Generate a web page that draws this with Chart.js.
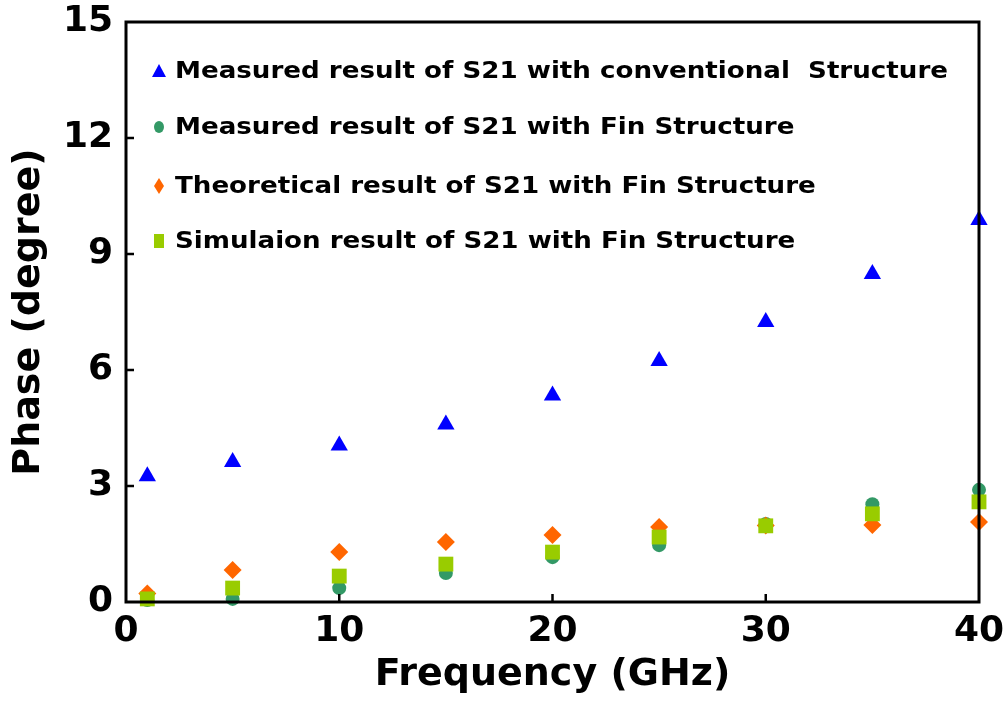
<!DOCTYPE html>
<html>
<head>
<meta charset="utf-8">
<script src="https://cdn.jsdelivr.net/npm/chart.js@4/dist/chart.umd.min.js"></script>
<style>
  html, body { margin: 0; padding: 0; background: #fff; }
  #wrap { width: 1006px; height: 702px; }
</style>
</head>
<body>
<div id="wrap"><canvas id="phaseChart" width="1006" height="702"></canvas></div>
<script>
const freqGHz = [1, 5, 10, 15, 20, 25, 30, 35, 40];
const measConventional = [3.25, 3.62, 4.05, 4.59, 5.34, 6.23, 7.24, 8.48, 9.88];
const measFin = [0.05, 0.08, 0.36, 0.75, 1.16, 1.47, 2.02, 2.53, 2.9];
const theoryFin = [0.22, 0.83, 1.29, 1.55, 1.73, 1.94, 1.98, 1.99, 2.07];
const simFin = [0.08, 0.36, 0.67, 0.98, 1.29, 1.68, 1.97, 2.28, 2.59];

const xTicks = [0, 10, 20, 30, 40];
const yTicks = [0, 3, 6, 9, 12, 15];

const seriesNames = [
  'Measured result of S21 with conventional  Structure',
  'Measured result of S21 with Fin Structure',
  'Theoretical result of S21 with Fin Structure',
  'Simulaion result of S21 with Fin Structure'
];
const seriesColors = ['#0000ff', '#339966', '#ff6600', '#99cc00'];

const toPoints = ys => freqGHz.map((x, i) => ({ x: x, y: ys[i] }));

// frame around the plot plus short inward tick marks
const frameBox = {
  id: 'frameBox',
  afterDatasetsDraw(chart) {
    const { ctx, chartArea: a, scales } = chart;
    ctx.save();
    ctx.strokeStyle = '#000';
    ctx.lineWidth = 3;
    ctx.strokeRect(a.left, a.top, a.right - a.left, a.bottom - a.top);
    ctx.lineWidth = 2.5;
    ctx.beginPath();
    xTicks.slice(1, -1).forEach(v => {
      const px = scales.x.getPixelForValue(v);
      ctx.moveTo(px, a.bottom);
      ctx.lineTo(px, a.bottom - 8);
    });
    yTicks.slice(1, -1).forEach(v => {
      const py = scales.y.getPixelForValue(v);
      ctx.moveTo(a.left, py);
      ctx.lineTo(a.left + 8, py);
    });
    ctx.stroke();
    ctx.restore();
  }
};

// legend drawn inside the plot, upper left
const insideLegend = {
  id: 'insideLegend',
  afterDraw(chart) {
    const { ctx } = chart;
    const rows = [71, 127, 186, 241];
    const markX = 159;
    const textX = 175;
    ctx.save();
    ctx.font = 'bold 23px "DejaVu Sans"';
    ctx.textBaseline = 'middle';
    ctx.fillStyle = '#000';
    const sx = 773 / ctx.measureText(seriesNames[0]).width;
    rows.forEach((y, i) => {
      ctx.fillStyle = seriesColors[i];
      ctx.beginPath();
      if (i === 0) {
        ctx.moveTo(markX, y - 7);
        ctx.lineTo(markX + 7, y + 6);
        ctx.lineTo(markX - 7, y + 6);
      } else if (i === 1) {
        ctx.ellipse(markX, y, 5, 6, 0, 0, Math.PI * 2);
      } else if (i === 2) {
        ctx.moveTo(markX, y - 8);
        ctx.lineTo(markX + 5, y);
        ctx.lineTo(markX, y + 8);
        ctx.lineTo(markX - 5, y);
      } else {
        ctx.rect(markX - 5, y - 7, 10, 14);
      }
      ctx.closePath();
      ctx.fill();
      ctx.fillStyle = '#000';
      ctx.save();
      ctx.translate(textX, y);
      ctx.scale(sx, 1);
      ctx.fillText(seriesNames[i], 0, 1);
      ctx.restore();
    });
    ctx.restore();
  }
};

const mkSet = (i, data, style, radius, order) => ({
  label: seriesNames[i],
  data: toPoints(data),
  pointStyle: style,
  pointRadius: radius,
  pointBackgroundColor: seriesColors[i],
  pointBorderColor: seriesColors[i],
  pointBorderWidth: 0,
  showLine: false,
  clip: false,
  order: order
});

new Chart(document.getElementById('phaseChart'), {
  type: 'scatter',
  data: {
    datasets: [
      mkSet(0, measConventional, 'triangle', 10, 4),
      mkSet(1, measFin, 'circle', 7, 3),
      mkSet(2, theoryFin, 'rectRot', 9, 2),
      mkSet(3, simFin, 'rect', 10.5, 1)
    ]
  },
  options: {
    responsive: false,
    animation: false,
    events: [],
    layout: { padding: { left: 0, right: 27, top: 22, bottom: 0 } },
    plugins: {
      legend: { display: false },
      tooltip: { enabled: false }
    },
    scales: {
      x: {
        type: 'linear',
        min: 0,
        max: 40,
        afterBuildTicks: s => { s.ticks = xTicks.map(v => ({ value: v })); },
        afterFit: s => { s.height = 100; s.paddingLeft = 0; s.paddingRight = 0; },
        grid: { display: false, drawTicks: false },
        border: { display: false },
        ticks: {
          padding: 8,
          color: '#000',
          font: { family: 'DejaVu Sans', weight: 'bold', size: 36 }
        },
        title: {
          display: true,
          text: 'Frequency (GHz)',
          color: '#000',
          padding: { top: 0, bottom: 4 },
          font: { family: 'DejaVu Sans', weight: 'bold', size: 38 }
        }
      },
      y: {
        type: 'linear',
        min: 0,
        max: 15,
        afterBuildTicks: s => { s.ticks = yTicks.map(v => ({ value: v })); },
        afterFit: s => { s.width = 126; s.paddingTop = 0; s.paddingBottom = 0; },
        grid: { display: false, drawTicks: false },
        border: { display: false },
        ticks: {
          padding: 13,
          color: '#000',
          font: { family: 'DejaVu Sans', weight: 'bold', size: 36 }
        },
        title: {
          display: true,
          text: 'Phase (degree)',
          color: '#000',
          padding: { top: 6, bottom: 0 },
          font: { family: 'DejaVu Sans', weight: 'bold', size: 38 }
        }
      }
    }
  },
  plugins: [frameBox, insideLegend]
});
</script>
</body>
</html>
